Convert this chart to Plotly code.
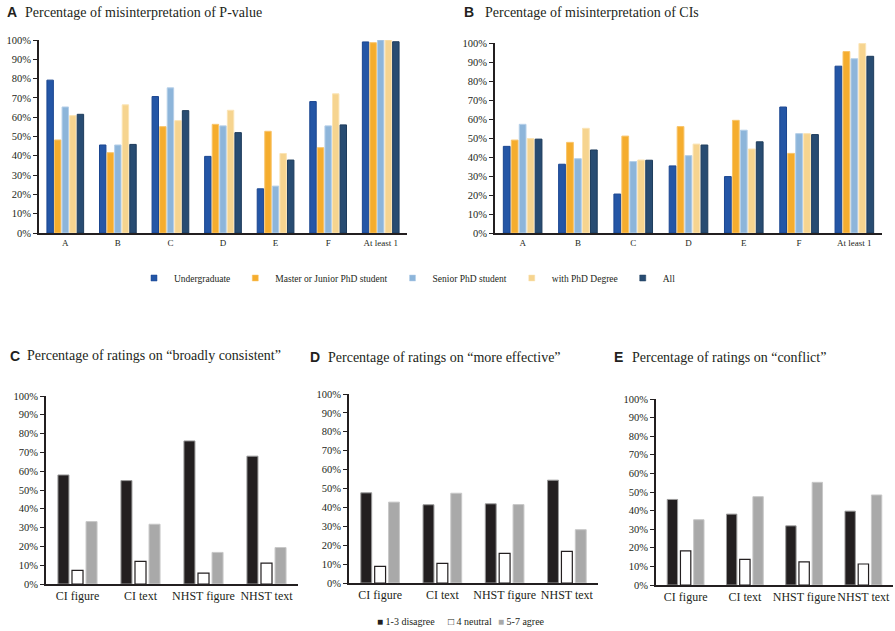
import plotly.graph_objects as go

# ---------------- data ----------------
cats_mis = ["A", "B", "C", "D", "E", "F", "At least 1"]
groups = ["Undergraduate", "Master or Junior PhD student", "Senior PhD student",
          "with PhD Degree", "All"]

pval_undergrad = [79.2, 45.6, 70.7, 39.7, 22.9, 68.1, 99.0]
pval_master = [48.2, 41.6, 55.1, 56.3, 52.7, 44.2, 98.6]
pval_senior = [65.3, 45.6, 75.2, 55.5, 24.3, 55.5, 100.0]
pval_phd = [60.8, 66.4, 58.2, 63.6, 41.2, 72.1, 100.0]
pval_all = [61.5, 45.9, 63.4, 52.0, 37.8, 56.0, 99.1]

ci_undergrad = [45.6, 36.2, 20.5, 35.3, 29.7, 66.3, 87.8]
ci_master = [48.9, 47.7, 51.0, 56.0, 59.3, 41.9, 95.5]
ci_senior = [57.2, 39.1, 37.6, 40.7, 54.1, 52.3, 91.7]
ci_phd = [49.7, 55.1, 38.4, 46.8, 44.2, 52.3, 99.7]
ci_all = [49.4, 43.7, 38.3, 46.3, 48.0, 51.8, 93.0]

cats_rate = ["CI figure", "CI text", "NHST figure", "NHST text"]
rating_levels = ["1-3 disagree", "4 neutral", "5-7 agree"]

cons_disagree = [58.0, 55.0, 76.1, 68.0]
cons_neutral = [7.2, 12.0, 5.8, 11.1]
cons_agree = [33.2, 31.8, 16.8, 19.4]

eff_disagree = [47.7, 41.4, 41.9, 54.4]
eff_neutral = [8.8, 10.4, 15.7, 16.7]
eff_agree = [42.8, 47.5, 41.5, 28.2]

conf_disagree = [46.0, 38.1, 31.8, 39.7]
conf_neutral = [18.3, 13.8, 12.4, 11.3]
conf_agree = [35.1, 47.5, 55.2, 48.4]

y_ticks = list(range(0, 101, 10))
y_tick_labels = [f"{v}%" for v in y_ticks]

# ---------------- styles ----------------
W, H = 895, 631
SERIF = "Liberation Serif"
SANS = "Liberation Sans"

grp_fill = ["#2456A6", "#F5AD2E", "#8DB5DA", "#F6D48F", "#284C72"]
grp_edge = ["#1B4690", "#F8C46A", "#B5CFE8", "#FBE4B5", "#1E3C5C"]
rate_fill = ["#231F20", "#FFFFFF", "#A9A9A9"]
rate_edge = ["#9A9A9A", "#231F20", "#C8C8C8"]
rate_edge_w = [1, 1.2, 1]
rate_glyph = ["\u25A0", "\u25A1", "\u25A0"]
rate_glyph_color = ["#231F20", "#231F20", "#A9A9A9"]


def px_x(p):
    return p / W


def px_y(p):
    return 1 - p / H


fig = go.Figure()

panels = {
    "A": dict(x=(39, 407), y=(40, 233)),
    "B": dict(x=(495, 882), y=(43, 233)),
    "C": dict(x=(46, 298), y=(396, 584)),
    "D": dict(x=(349, 598), y=(394, 583)),
    "E": dict(x=(656, 893), y=(399, 585)),
}
axis_ids = {"A": ("x", "y"), "B": ("x2", "y2"), "C": ("x3", "y3"),
            "D": ("x4", "y4"), "E": ("x5", "y5")}

# grouped bars for panels A and B (5 bars per category)
grp_width = 0.72
slot5 = grp_width / 5
bw5 = slot5 * 0.85
mis_series = {
    "A": [pval_undergrad, pval_master, pval_senior, pval_phd, pval_all],
    "B": [ci_undergrad, ci_master, ci_senior, ci_phd, ci_all],
}
for pan, series in mis_series.items():
    xa, ya = axis_ids[pan]
    for i, vals in enumerate(series):
        fig.add_trace(go.Bar(
            x=cats_mis, y=vals, name=groups[i], xaxis=xa, yaxis=ya,
            width=bw5, offset=-grp_width / 2 + i * slot5 + (slot5 - bw5) / 2,
            marker=dict(color=grp_fill[i], line=dict(color=grp_edge[i], width=1)),
            showlegend=False,
        ))

# grouped bars for panels C, D, E (3 bars per category)
bw3 = 0.175
gap3 = 0.048
grp3 = 3 * bw3 + 2 * gap3
rate_series = {
    "C": [cons_disagree, cons_neutral, cons_agree],
    "D": [eff_disagree, eff_neutral, eff_agree],
    "E": [conf_disagree, conf_neutral, conf_agree],
}
for pan, series in rate_series.items():
    xa, ya = axis_ids[pan]
    for i, vals in enumerate(series):
        fig.add_trace(go.Bar(
            x=cats_rate, y=vals, name=rating_levels[i], xaxis=xa, yaxis=ya,
            width=bw3, offset=-grp3 / 2 + i * (bw3 + gap3),
            marker=dict(color=rate_fill[i], line=dict(color=rate_edge[i], width=rate_edge_w[i])),
            showlegend=False,
        ))

# legend entries for the group legend (small square markers)
for i, g in enumerate(groups):
    fig.add_trace(go.Scatter(
        x=[None], y=[None], mode="markers", name=g, legend="legend",
        marker=dict(symbol="square", size=6, color=grp_fill[i],
                    line=dict(color=grp_edge[i], width=0.5)),
        xaxis="x", yaxis="y",
    ))

layout = dict(
    template="none",
    width=W, height=H,
    margin=dict(l=0, r=0, t=0, b=0, pad=0),
    paper_bgcolor="white", plot_bgcolor="white",
    barmode="overlay",
    hovermode=False,
    font=dict(family=SERIF, color="#231F20", size=10.5),
)

for pan, geo in panels.items():
    xa, ya = axis_ids[pan]
    xkey = "xaxis" if xa == "x" else "xaxis" + xa[1:]
    ykey = "yaxis" if ya == "y" else "yaxis" + ya[1:]
    ncat = len(cats_mis) if pan in ("A", "B") else len(cats_rate)
    layout[xkey] = dict(
        domain=[px_x(geo["x"][0]), px_x(geo["x"][1])],
        anchor=ya, type="category", range=[-0.5, ncat - 0.5],
        showline=True, linecolor="#231F20", linewidth=2,
        ticks="", showgrid=False, zeroline=False, automargin=False,
        tickangle=0,
        tickfont=dict(family=SERIF, size=9 if pan in ("A", "B") else 12, color="#231F20"),
        fixedrange=True,
    )
    layout[ykey] = dict(
        domain=[px_y(geo["y"][1]), px_y(geo["y"][0])],
        anchor=xa, range=[0, 100], tickmode="array",
        tickvals=y_ticks, ticktext=y_tick_labels,
        showline=True, linecolor="#231F20", linewidth=2,
        ticks="outside", ticklen=4, tickwidth=1, tickcolor="#231F20",
        showgrid=False, zeroline=False, automargin=False,
        tickfont=dict(family=SERIF, size=10.5, color="#231F20"),
        fixedrange=True,
    )

layout["legend"] = dict(
    orientation="h", x=px_x(134), y=px_y(278), xanchor="left", yanchor="middle",
    font=dict(family=SERIF, size=9.5, color="#231F20"), itemwidth=30,
    bgcolor="rgba(0,0,0,0)", borderwidth=0,
)

titles = [
    ("A", "Percentage of misinterpretation of P-value", 5, 23, 12),
    ("B", "Percentage of misinterpretation of CIs", 462, 483, 12),
    ("C", "Percentage of ratings on \u201cbroadly consistent\u201d", 8, 25, 356),
    ("D", "Percentage of ratings on \u201cmore effective\u201d", 308, 326, 357),
    ("E", "Percentage of ratings on \u201cconflict\u201d", 612, 630, 357),
]
ann = []
for letter, text, lx, tx, ty in titles:
    ann.append(dict(text="<b>" + letter + "</b>", x=px_x(lx), y=px_y(ty),
                    xref="paper", yref="paper", xanchor="left", yanchor="middle",
                    showarrow=False, font=dict(family=SANS, size=14, color="#231F20")))
    ann.append(dict(text=text, x=px_x(tx), y=px_y(ty),
                    xref="paper", yref="paper", xanchor="left", yanchor="middle",
                    showarrow=False, font=dict(family=SERIF, size=14, color="#231F20")))

# compact key for the rating panels (glyph + label, as in the reference)
key_x = [375, 446, 496]
for i, lvl in enumerate(rating_levels):
    ann.append(dict(
        text=f'<span style="color:{rate_glyph_color[i]}">{rate_glyph[i]}</span>\u00a0{lvl}',
        x=px_x(key_x[i]), y=px_y(621), xref="paper", yref="paper",
        xanchor="left", yanchor="middle", showarrow=False,
        font=dict(family=SERIF, size=10, color="#231F20")))
layout["annotations"] = ann

fig.update_layout(**layout)
fig.write_html(
    "out.html",
    config={"displayModeBar": False, "staticPlot": True},
    post_script="document.body.style.margin='0';document.body.style.padding='0';",
)
